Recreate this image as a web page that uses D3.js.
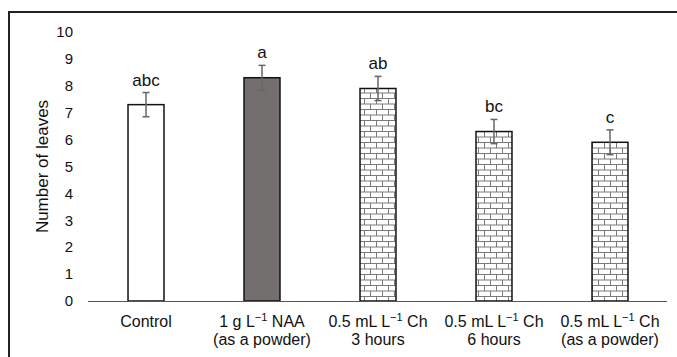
<!DOCTYPE html>
<html>
<head>
<meta charset="utf-8">
<script src="https://cdn.jsdelivr.net/npm/d3@7"></script>
<style>
  body { margin: 0; background: #fff; }
  text { font-family: "Liberation Sans", Arial, sans-serif; }
</style>
</head>
<body>
<div id="chart"></div>
<script>
// data
var treatments = ["Control", "NAA", "Ch3h", "Ch6h", "ChPowder"];
var leaves = [7.3, 8.3, 7.9, 6.3, 5.9];
var errors = [0.45, 0.46, 0.45, 0.45, 0.46];
var letters = ["abc", "a", "ab", "bc", "c"];
var fills = ["white", "#736f6f", "brick", "brick", "brick"];
var yTicks = [0, 1, 2, 3, 4, 5, 6, 7, 8, 9, 10];

// set the dimensions
const W = 677, H = 357;
const margin = { top: 32, right: 9, bottom: 56, left: 88 },
  width = W - margin.left - margin.right,
  height = H - margin.top - margin.bottom;

const svg0 = d3.select("#chart").append("svg")
  .attr("width", W).attr("height", H);

// brick pattern
const defs = svg0.append("defs");
const pat = defs.append("pattern")
  .attr("id", "brick")
  .attr("patternUnits", "userSpaceOnUse")
  .attr("width", 12).attr("height", 11)
  .attr("x", 0).attr("y", 0);
pat.append("rect").attr("width", 12).attr("height", 11).attr("fill", "white");
pat.append("path")
  .attr("d", "M0,0.5H12 M0,6H12 M0.5,0V6 M6.5,6V11")
  .attr("stroke", "#7a7a7a").attr("stroke-width", 1).attr("fill", "none");

// outer frame (only top & left show)
svg0.append("path")
  .attr("d", "M9,357V12H677")
  .attr("fill", "none").attr("stroke", "#222").attr("stroke-width", 2);

const svg = svg0.append("g")
  .attr("transform", `translate(${margin.left},${margin.top})`);

const x = d3.scaleBand().domain(treatments).range([0, width]).paddingInner(0.69).paddingOuter(0.345);
const y = d3.scaleLinear().domain([0, 10]).range([height, 0]);

// y tick labels
svg.selectAll(".ytick").data(yTicks).join("text")
  .attr("x", -15).attr("y", d => y(d))
  .attr("dy", "0.35em")
  .attr("text-anchor", "end")
  .attr("font-size", "15px")
  .attr("fill", "#111")
  .text(d => d);

// y axis title
svg.append("text")
  .attr("transform", `translate(-40,${height / 2}) rotate(-90)`)
  .attr("text-anchor", "middle")
  .attr("font-size", "17px")
  .attr("fill", "#111")
  .text("Number of leaves");

// bars
svg.selectAll(".bar").data(treatments).join("rect")
  .attr("x", d => x(d))
  .attr("y", (d, i) => y(leaves[i]))
  .attr("width", x.bandwidth())
  .attr("height", (d, i) => height - y(leaves[i]))
  .attr("fill", (d, i) => fills[i] == "brick" ? "url(#brick)" : fills[i])
  .attr("stroke", "#111")
  .attr("stroke-width", 1.5);

// x axis line
svg.append("line")
  .attr("x1", 0).attr("x2", width - 1)
  .attr("y1", height + 0.5).attr("y2", height + 0.5)
  .attr("stroke", "#555").attr("stroke-width", 1.2);

// error bars
const eb = svg.selectAll(".err").data(treatments).join("g")
  .attr("transform", d => `translate(${x(d) + x.bandwidth() / 2},0)`);
eb.append("line")
  .attr("y1", (d, i) => y(leaves[i] + errors[i]))
  .attr("y2", (d, i) => y(leaves[i] - errors[i]))
  .attr("stroke", "#666").attr("stroke-width", 1.5);
eb.append("line")
  .attr("x1", -3.5).attr("x2", 3.5)
  .attr("y1", (d, i) => y(leaves[i] + errors[i]))
  .attr("y2", (d, i) => y(leaves[i] + errors[i]))
  .attr("stroke", "#666").attr("stroke-width", 1.5);
eb.append("line")
  .attr("x1", -3.5).attr("x2", 3.5)
  .attr("y1", (d, i) => y(leaves[i] - errors[i]))
  .attr("y2", (d, i) => y(leaves[i] - errors[i]))
  .attr("stroke", "#666").attr("stroke-width", 1.5);

// significance letters
eb.append("text")
  .attr("y", (d, i) => y(leaves[i] + errors[i]) - 7)
  .attr("text-anchor", "middle")
  .attr("font-size", "17px")
  .attr("fill", "#111")
  .text((d, i) => letters[i]);

// x labels with superscripts
function supLabel(sel, pre, post) {
  sel.append("tspan").text(pre);
  sel.append("tspan").attr("font-size", "11px").attr("dy", -6).text("\u22121");
  sel.append("tspan").attr("dy", 6).text(post);
}
const labLines = [
  [["Control", null, null], null],
  [["1 g L", " NAA", true], "(as a powder)"],
  [["0.5 mL L", " Ch", true], "3 hours"],
  [["0.5 mL L", " Ch", true], "6 hours"],
  [["0.5 mL L", " Ch", true], "(as a powder)"]
];
treatments.forEach(function (t, i) {
  const cx = x(t) + x.bandwidth() / 2;
  const l1 = svg.append("text")
    .attr("x", cx).attr("y", height + 26)
    .attr("text-anchor", "middle")
    .attr("font-size", "16px").attr("fill", "#111");
  if (labLines[i][0][2]) supLabel(l1, labLines[i][0][0], labLines[i][0][1]);
  else l1.text(labLines[i][0][0]);
  if (labLines[i][1]) {
    svg.append("text")
      .attr("x", cx).attr("y", height + 44)
      .attr("text-anchor", "middle")
      .attr("font-size", "16px").attr("fill", "#111")
      .text(labLines[i][1]);
  }
});
</script>
</body>
</html>
